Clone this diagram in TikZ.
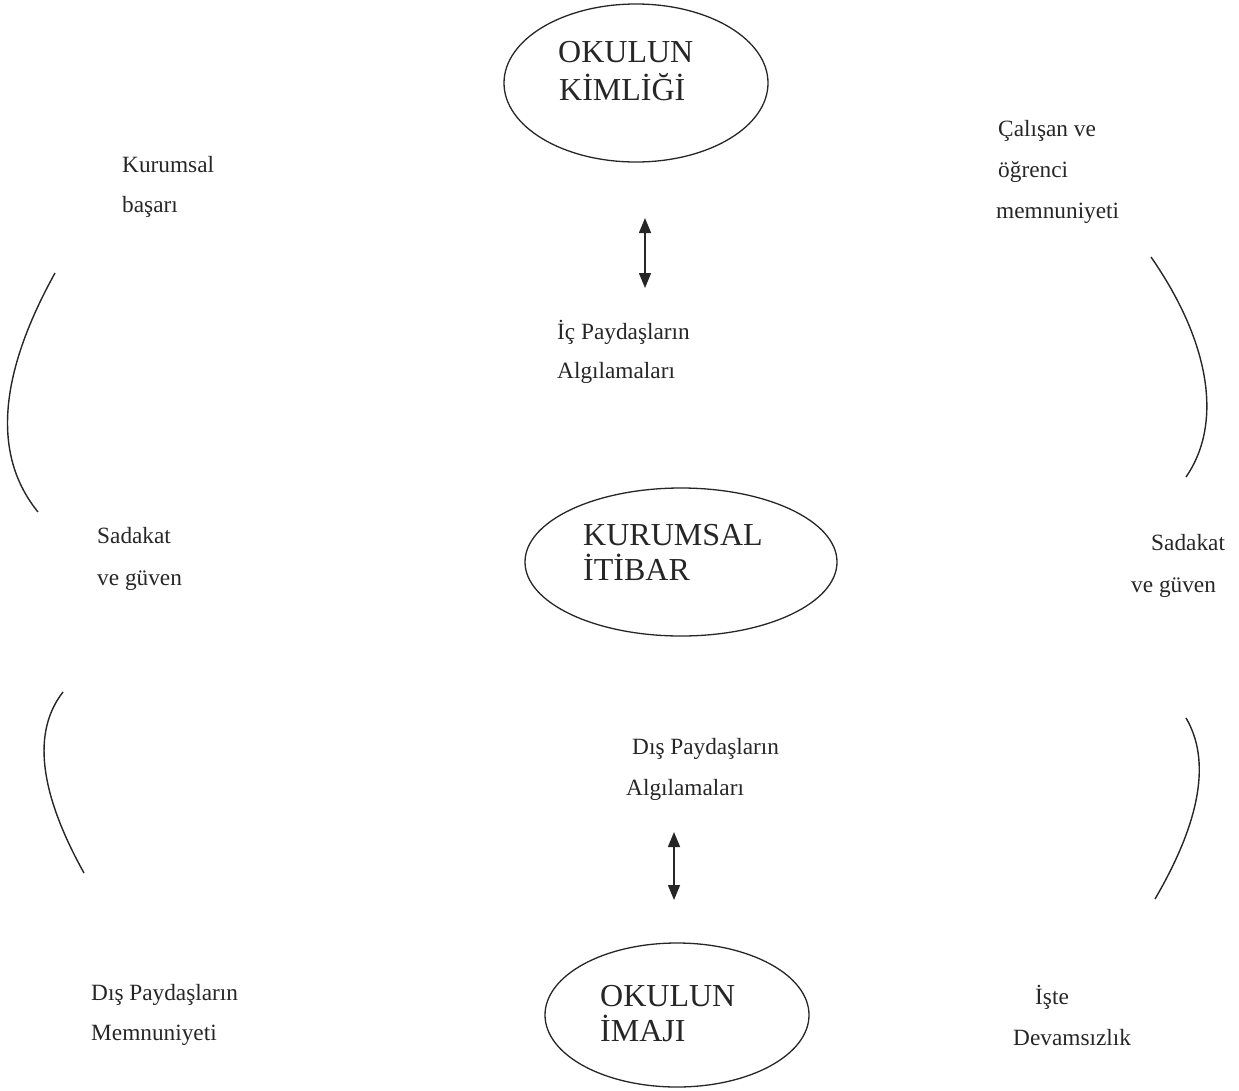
\documentclass[tikz,border=0pt]{standalone}
\usepackage{fontspec}
\setmainfont{Liberation Serif}
\usetikzlibrary{shapes.geometric,arrows.meta}
\definecolor{ink}{HTML}{262626}
\tikzset{
  oval/.style={draw=ink, line width=1.3pt, ellipse, inner sep=0pt},
  big/.style={anchor=base west, inner sep=0pt, text=ink, font=\fontsize{32}{36}\selectfont},
  lbl/.style={anchor=base west, inner sep=0pt, text=ink, font=\fontsize{23.3}{27}\selectfont},
  curve/.style={draw=ink, line width=1.4pt},
  dbl/.style={draw=ink, line width=1.5pt, {Triangle[width=12pt,length=15pt]}-{Triangle[width=12pt,length=15pt]}}
}
\begin{document}
\begin{tikzpicture}[x=1pt,y=1pt]
\useasboundingbox (0,0) rectangle (1239,-1090);
% ellipses
\node[oval, minimum width=264pt, minimum height=158pt] (kimlik) at (636,-83) {};
\node[oval, minimum width=312pt, minimum height=148pt] (itibar) at (681,-562) {};
\node[oval, minimum width=264pt, minimum height=144pt] (imaj) at (677,-1015) {};
% ellipse texts
\node[big] (k1) at (558,-62) {OKULUN};
\node[big] (k2) at (559,-100) {KİMLİĞİ};
\node[big] (i1) at (583,-545) {KURUMSAL};
\node[big] (i2) at (583,-580) {İTİBAR};
\node[big] (m1) at (600,-1006) {OKULUN};
\node[big] (m2) at (600,-1041) {İMAJI};
% labels
\node[lbl] (kb1) at (122,-172) {Kurumsal};
\node[lbl] (kb2) at (122,-212) {başarı};
\node[lbl] (cm1) at (998,-136) {Çalışan ve};
\node[lbl] (cm2) at (998,-177) {öğrenci};
\node[lbl] (cm3) at (996,-218) {memnuniyeti};
\node[lbl] (ip1) at (557,-339) {İç Paydaşların};
\node[lbl] (ip2) at (557,-378) {Algılamaları};
\node[lbl] (sl1) at (97,-543) {Sadakat};
\node[lbl] (sl2) at (97,-585) {ve güven};
\node[lbl] (sr1) at (1151,-550) {Sadakat};
\node[lbl] (sr2) at (1131,-592) {ve güven};
\node[lbl] (dp1) at (632,-754) {Dış Paydaşların};
\node[lbl] (dp2) at (626,-795) {Algılamaları};
\node[lbl] (dm1) at (91,-1000) {Dış Paydaşların};
\node[lbl] (dm2) at (91,-1040) {Memnuniyeti};
\node[lbl] (id1) at (1035,-1004) {İşte};
\node[lbl] (id2) at (1013,-1045) {Devamsızlık};
% double arrows
\coordinate (a1t) at (645,-218);
\coordinate (a1b) at (645,-288);
\coordinate (a2t) at (674,-832);
\coordinate (a2b) at (674,-900);
\draw[dbl] (a1t) -- (a1b);
\draw[dbl] (a2t) -- (a2b);
% arcs
\draw[curve] (55,-273) .. controls (-2,-376) and (-7.7,-455.7) .. (38,-512);
\draw[curve] (63,-692) .. controls (32,-731.7) and (39,-792) .. (84,-873);
\draw[curve] (1151,-257) .. controls (1212,-345) and (1222,-425) .. (1186,-477);
\draw[curve] (1186,-718) .. controls (1211,-760.3) and (1200.7,-820.7) .. (1155,-899);
\end{tikzpicture}
\end{document}
